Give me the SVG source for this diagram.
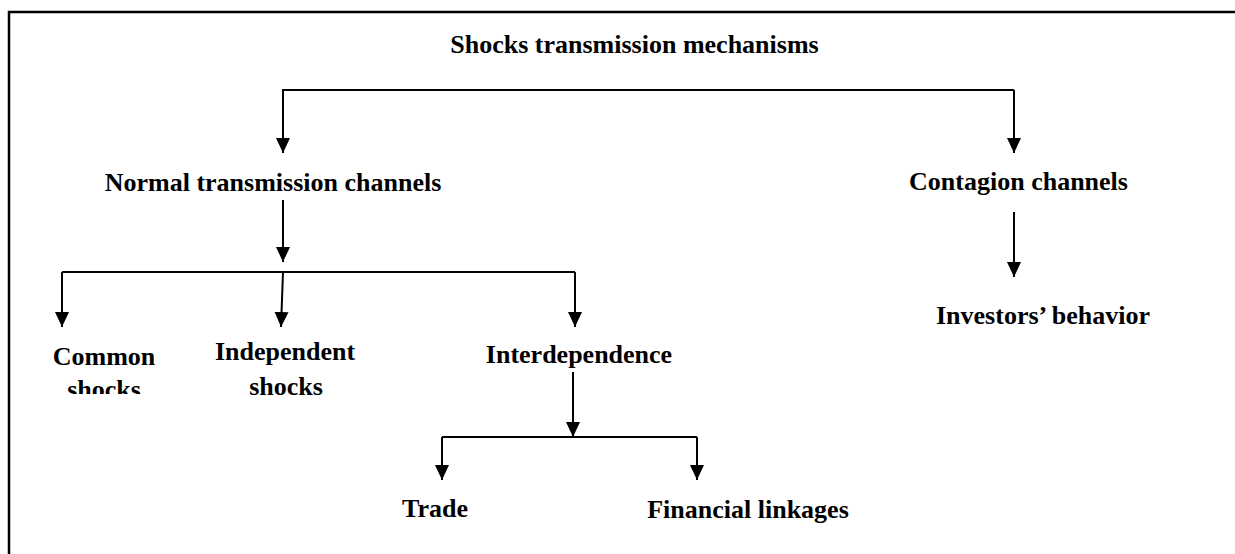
<svg xmlns="http://www.w3.org/2000/svg" width="1235" height="554" viewBox="0 0 1235 554">
  <style>
    .lbl { font-family: "Liberation Serif", "Times New Roman", serif; font-weight: bold; font-size: 26px; fill: #000; text-anchor: middle; }
    .conn { fill: none; stroke: #000; stroke-width: 2; }
  </style>
  <defs>
    <marker id="arr" markerUnits="userSpaceOnUse" markerWidth="16" markerHeight="15" refX="15" refY="7" orient="auto">
      <path d="M0,0 L15,7 L0,14 z" fill="#000"/>
    </marker>
    <clipPath id="clipCommon">
      <rect x="0" y="0" width="1235" height="394"/>
    </clipPath>
  </defs>
  <rect width="1235" height="554" fill="#fff"/>
  <rect id="frame" x="9" y="12" width="1250" height="570" fill="none" stroke="#000" stroke-width="2.5"/>

  <g id="connectors" class="conn">
    <path d="M1014,90 L283,90 L283,153" marker-end="url(#arr)"/>
    <path d="M1014,90 L1014,153" marker-end="url(#arr)"/>
    <path d="M283,200 L283,262" marker-end="url(#arr)"/>
    <path d="M62,272 L575,272"/>
    <path d="M62,272 L62,327" marker-end="url(#arr)"/>
    <path d="M283,272 L281,327" marker-end="url(#arr)"/>
    <path d="M575,272 L575,327" marker-end="url(#arr)"/>
    <path d="M573,372 L573,437" marker-end="url(#arr)"/>
    <path d="M442,437 L697,437"/>
    <path d="M442,437 L442,480" marker-end="url(#arr)"/>
    <path d="M697,437 L697,480" marker-end="url(#arr)"/>
    <path d="M1014,212 L1014,277" marker-end="url(#arr)"/>
  </g>

  <g id="node-title"><text class="lbl" x="634.5" y="53">Shocks transmission mechanisms</text></g>
  <g id="node-normal"><text class="lbl" x="273" y="191">Normal transmission channels</text></g>
  <g id="node-contagion"><text class="lbl" x="1018.5" y="190">Contagion channels</text></g>
  <g id="node-investors"><text class="lbl" x="1043" y="324">Investors’ behavior</text></g>
  <g id="node-common" clip-path="url(#clipCommon)">
    <text class="lbl" x="104" y="365">Common</text>
    <text class="lbl" x="104" y="398">shocks</text>
  </g>
  <g id="node-independent">
    <text class="lbl" x="285" y="360">Independent</text>
    <text class="lbl" x="286" y="395">shocks</text>
  </g>
  <g id="node-interdependence"><text class="lbl" x="579" y="363">Interdependence</text></g>
  <g id="node-trade"><text class="lbl" x="435" y="517">Trade</text></g>
  <g id="node-financial"><text class="lbl" x="748" y="518">Financial linkages</text></g>
</svg>
